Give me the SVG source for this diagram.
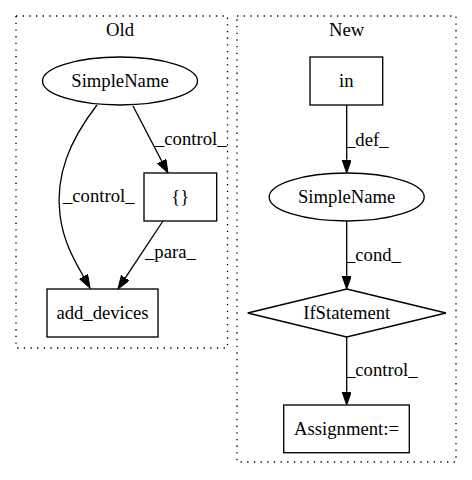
<svg xmlns="http://www.w3.org/2000/svg" width="472" height="480" viewBox="0 0 472 480">
  <style>
    text { font-family: "Liberation Serif", "Times New Roman", serif; font-size: 18.67px; fill: #000; }
    .node { fill: none; stroke: #000; stroke-width: 1.33; }
    .cluster { fill: none; stroke: #000; stroke-width: 1.33; stroke-dasharray: 1.33 5.33; }
    .edge { fill: none; stroke: #000; stroke-width: 1.33; marker-end: url(#arrow); }
    .c { text-anchor: middle; }
  </style>
  <defs>
    <marker id="arrow" markerUnits="userSpaceOnUse" markerWidth="14" markerHeight="10" refX="0" refY="4.67" orient="auto">
      <path d="M0,0 L13.3,4.67 L0,9.33 z" fill="#000" stroke="#000" stroke-width="1"/>
    </marker>
  </defs>
  <rect width="472" height="480" fill="#fff"/>

  <!-- clusters -->
  <g id="cluster_old">
    <rect class="cluster" x="16" y="16" width="211.5" height="332"/>
    <text class="c" x="120" y="36">Old</text>
  </g>
  <g id="cluster_new">
    <rect class="cluster" x="237" y="16" width="219" height="446"/>
    <text class="c" x="346.7" y="36">New</text>
  </g>

  <!-- connectors -->
  <g id="edges">
    <path class="edge" d="M97,105 C70,140 55,175 60,215 C63,240 73,258 83.5,276.5"/>
    <text x="63" y="202">_control_</text>
    <path class="edge" d="M133,106 L161.8,161.2"/>
    <text x="155" y="145">_control_</text>
    <path class="edge" d="M163,221 L125.3,277.9"/>
    <text x="145" y="258">_para_</text>
    <path class="edge" d="M346.7,105 L346.7,159.7"/>
    <text x="346" y="145.5">_def_</text>
    <path class="edge" d="M346.7,221 L346.7,275.7"/>
    <text x="346" y="260.5">_cond_</text>
    <path class="edge" d="M346.7,337 L346.7,391.7"/>
    <text x="346" y="376">_control_</text>
  </g>

  <!-- Old nodes -->
  <g id="old_simplename">
    <ellipse class="node" cx="120" cy="81" rx="77.5" ry="24"/>
    <text class="c" x="120" y="87">SimpleName</text>
  </g>
  <g id="old_braces">
    <rect class="node" x="144" y="173" width="72.7" height="48"/>
    <text class="c" x="180.3" y="203">{}</text>
  </g>
  <g id="old_add_devices">
    <rect class="node" x="47" y="289" width="111" height="48"/>
    <text class="c" x="102.5" y="319">add_devices</text>
  </g>

  <!-- New nodes -->
  <g id="new_in">
    <rect class="node" x="310" y="57" width="72.7" height="48"/>
    <text class="c" x="346.3" y="87">in</text>
  </g>
  <g id="new_simplename">
    <ellipse class="node" cx="346.7" cy="197" rx="77.5" ry="24"/>
    <text class="c" x="346.7" y="203">SimpleName</text>
  </g>
  <g id="new_ifstatement">
    <polygon class="node" points="346.7,289 446,313 346.7,337 247.7,313"/>
    <text class="c" x="346.7" y="319">IfStatement</text>
  </g>
  <g id="new_assignment">
    <rect class="node" x="283.7" y="405" width="125.6" height="47.7"/>
    <text class="c" x="346.5" y="435">Assignment:=</text>
  </g>
</svg>
